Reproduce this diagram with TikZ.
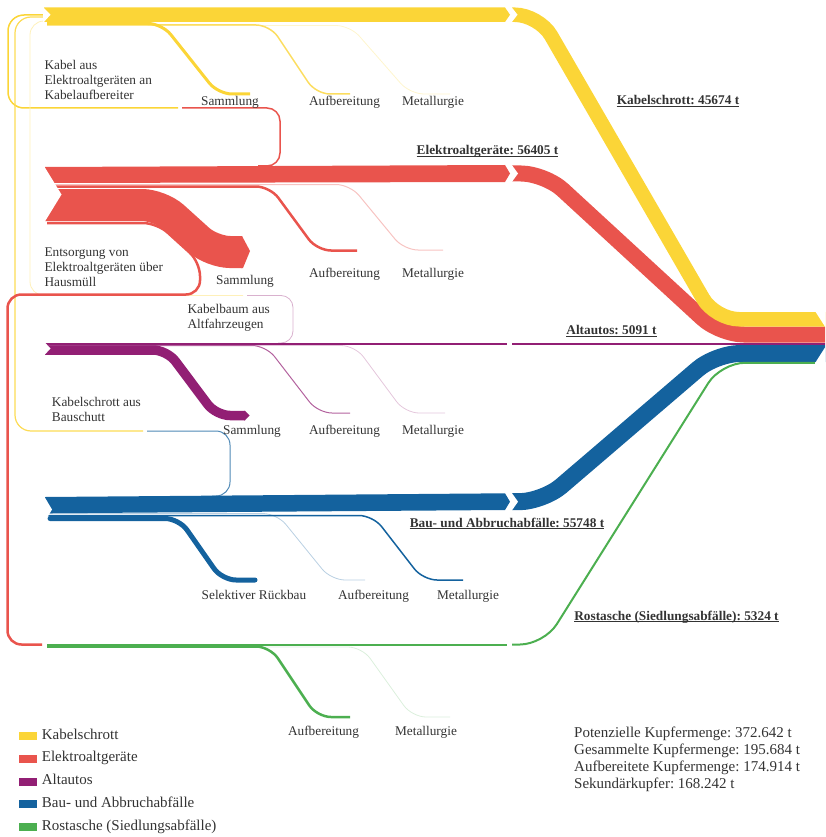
\documentclass[tikz,border=0pt]{standalone}
\usepackage{fontspec}
\setmainfont{Liberation Serif}
\frenchspacing
\definecolor{cable}{RGB}{251,213,55}
\definecolor{weee}{RGB}{233,84,77}
\definecolor{elv}{RGB}{146,31,116}
\definecolor{cdw}{RGB}{20,98,158}
\definecolor{ash}{RGB}{76,175,80}
\definecolor{ink}{RGB}{51,51,51}
\tikzset{
  stage/.style={font=\fontsize{13.3}{15}\selectfont, text=ink, inner sep=0pt, anchor=base},
  total/.style={stage, font=\fontsize{13.3}{15}\selectfont\bfseries},
  remark/.style={font=\fontsize{13.3}{15}\selectfont, text=ink, inner sep=0pt, anchor=north west, align=left},
  keytext/.style={font=\fontsize{15}{17}\selectfont, text=ink, inner sep=0pt, anchor=base west},
  keybox/.style={minimum width=18pt, minimum height=8pt, inner sep=0pt, anchor=north west, draw=none},
  knockout/.style={fill=white, draw=none},
  branch/.style={rounded corners=14pt},
  trunk/.style={rounded corners=24pt},
}
\begin{document}
\begin{tikzpicture}[x=1pt,y=-1pt]
\useasboundingbox (0,0) rectangle (825,837);
\clip (0,0) rectangle (825,837);

% ---------- transfer loops between the source streams
\draw[cable, line width=1.5pt, rounded corners=16pt] (44,15) -- (8,15) -- (8,108) -- (178,108);
\draw[weee, line width=1.5pt, rounded corners=13pt] (182,108) -- (280,108) -- (280,166) -- (258,166);
\draw[cable!85, line width=1.2pt, rounded corners=16pt] (44,17) -- (15,17) -- (15,431) -- (143,431);
\draw[cdw!75, line width=1pt, rounded corners=14pt] (147,431) -- (230,431) -- (230,496) -- (212,496);
\draw[cable!35, line width=0.8pt, rounded corners=14pt] (44,21) -- (30,21) -- (30,295.5) -- (243,295.5);
\draw[elv!35, line width=0.8pt, rounded corners=12pt] (247,295.5) -- (293,295.5) -- (293,343) -- (278,343);
\draw[weee, line width=2.5pt, rounded corners=14pt] (47,223) -- (157,223) -- (200,262) -- (200,294.5) -- (7.5,294.5) -- (7.5,644.5) -- (42,644.5);

% ---------- Kabelschrott branches
\draw[cable!25, line width=0.8pt, branch] (47,25.5) -- (350,25.5) -- (410,94) -- (450,94);
\draw[cable!80, line width=1.5pt, branch] (47,25) -- (270,25) -- (316,94) -- (350,94);
\draw[cable, line width=3pt, branch] (47,23.5) -- (162,23.5) -- (218,94) -- (250,94);

% ---------- Elektroaltgeraete branches
\draw[weee!35, line width=1pt, branch] (47,184.5) -- (350,184.5) -- (404,250) -- (443,250);
\draw[weee, line width=2.5pt, branch] (47,186.5) -- (270,186.5) -- (317,250.5) -- (357,250.5);
\draw[weee, line width=32pt, rounded corners=18pt] (45,205) -- (160,205) -- (212,252) -- (242,252);
\fill[weee] (241,236) -- (242,236) -- (250,251) -- (243,268) -- (241,268) -- cycle;

% ---------- Altautos branches
\draw[elv!25, line width=0.8pt, branch] (47,345.5) -- (355,345.5) -- (405,413) -- (445,413);
\draw[elv!70, line width=1pt, branch] (47,345.5) -- (266,345.5) -- (318,413) -- (350,413);
\draw[elv, line width=9.5pt, branch] (45,350) -- (167,350) -- (216,415.5) -- (245,415.5);
\fill[elv] (244,410.75) -- (245,410.75) -- (249.5,415.5) -- (245,420.25) -- (244,420.25) -- cycle;

% ---------- Bau- und Abbruchabfaelle branches
\draw[cdw!30, line width=0.8pt, branch] (47,513.5) -- (277,513.5) -- (331,580) -- (365,580);
\draw[cdw, line width=1.5pt, branch] (47,515.5) -- (373,515.5) -- (423,580) -- (463,580);
\draw[cdw, line width=5pt, line cap=round, branch] (50,518.5) -- (179,518.5) -- (222,580) -- (255,580);

% ---------- Rostasche branches
\draw[ash!20, line width=0.8pt, branch] (47,647) -- (362,647) -- (412,717) -- (450,717);
\draw[ash, line width=2.5pt, branch] (47,646.5) -- (270,646.5) -- (317,717) -- (350,717);

% ---------- main streams, first stretch
\fill[cable] (44,7.5) -- (505,7.5) -- (510,14.75) -- (505,22) -- (44,22) -- cycle;
\fill[weee] (45,167) -- (505,165) -- (510,173.5) -- (505,182) -- (45,183) -- cycle;
\draw[elv, line width=2pt] (45,343.5) -- (507,343.5);
\fill[cdw] (45,497) -- (505,493.3) -- (510,501.7) -- (505,510) -- (45,513.3) -- cycle;
\draw[ash, line width=2pt] (47,644.5) -- (507,644.5);

% ---------- main streams, second stretch into the total
\draw[cdw, line width=17pt, trunk] (512,501.7) -- (543,501.7) -- (716,353.5) -- (840,353.5);
\draw[ash, line width=2pt, trunk] (512,644.5) -- (544,644.5) -- (721,362.8) -- (815,362.8);
\draw[elv, line width=2pt] (512,343.5) -- (840,343.5);
\draw[weee, line width=16pt, trunk] (512,173.5) -- (545,173.5) -- (720,334.5) -- (840,334.5);
\draw[cable, line width=14.5pt, trunk] (512,14.75) -- (539,14.75) -- (715,319.25) -- (840,319.25);

% ---------- notches and arrow ends
\fill[knockout] (511.5,7) -- (517.5,14.75) -- (511.5,22.5) -- cycle;
\fill[knockout] (511.5,164.5) -- (518,173.5) -- (511.5,182.5) -- cycle;
\fill[knockout] (511.5,492.5) -- (518,501.7) -- (511.5,511) -- cycle;
\fill[knockout] (43,7) -- (50.5,14.75) -- (43,23) -- cycle;
\fill[knockout] (44,166) -- (61.5,194.5) -- (44,223) -- cycle;
\fill[knockout] (44,341.5) -- (50.5,348.5) -- (44,355.5) -- cycle;
\fill[knockout] (44,496) -- (52,509.5) -- (44,523) -- cycle;
\fill[knockout] (815,311) -- (831.7,337) -- (815,363.2) -- (815,370) -- (870,370) -- (870,300) -- (815,300) -- cycle;

% ---------- stage labels
\node[stage] (y-s) at (230,105.5) {Sammlung};
\node[stage] (y-a) at (344.5,105.5) {Aufbereitung};
\node[stage] (y-m) at (433,105.5) {Metallurgie};
\node[stage] (r-s) at (245,284.5) {Sammlung};
\node[stage] (r-a) at (344.5,277) {Aufbereitung};
\node[stage] (r-m) at (433,277) {Metallurgie};
\node[stage] (p-s) at (252,434.5) {Sammlung};
\node[stage] (p-a) at (344.5,434.5) {Aufbereitung};
\node[stage] (p-m) at (433,434.5) {Metallurgie};
\node[stage] (b-s) at (254,599) {Selektiver Rückbau};
\node[stage] (b-a) at (373.5,599) {Aufbereitung};
\node[stage] (b-m) at (468,599) {Metallurgie};
\node[stage] (g-a) at (323.5,735) {Aufbereitung};
\node[stage] (g-m) at (426,735) {Metallurgie};

% ---------- loop notes
\node[remark] (n-kabel) at (44.3,60.2) {Kabel aus\\Elektroaltgeräten an\\Kabelaufbereiter};
\node[remark] (n-haus) at (44.3,247.2) {Entsorgung von\\Elektroaltgeräten über\\Hausmüll};
\node[remark] (n-kfz) at (187.3,304.2) {Kabelbaum aus\\Altfahrzeugen};
\node[remark] (n-bau) at (51.7,396.9) {Kabelschrott aus\\Bauschutt};

% ---------- stream totals
\node[total] (t-cable) at (678,105) {Kabelschrott: 45674 t};
\node[total] (t-weee) at (487.5,155) {Elektroaltgeräte: 56405 t};
\node[total] (t-elv) at (611.5,334.5) {Altautos: 5091 t};
\node[total] (t-cdw) at (507,527) {Bau- und Abbruchabfälle: 55748 t};
\node[total] (t-ash) at (676.5,620) {Rostasche (Siedlungsabfälle): 5324 t};
\foreach \t in {t-cable,t-weee,t-elv,t-cdw,t-ash}
  \draw[ink, line width=0.9pt] ([yshift=-1.8pt]\t.base west) -- ([yshift=-1.8pt]\t.base east);

% ---------- legend
\node[keybox, fill=cable] (k1) at (18.5,731.5) {};
\node[keybox, fill=weee] (k2) at (18.5,754.4) {};
\node[keybox, fill=elv] (k3) at (18.5,777.3) {};
\node[keybox, fill=cdw] (k4) at (18.5,800.2) {};
\node[keybox, fill=ash] (k5) at (18.5,823.1) {};
\node[keytext] (k1t) at (41.7,739) {Kabelschrott};
\node[keytext] (k2t) at (41.7,761.9) {Elektroaltgeräte};
\node[keytext] (k3t) at (41.7,784.8) {Altautos};
\node[keytext] (k4t) at (41.7,807.7) {Bau- und Abbruchabfälle};
\node[keytext] (k5t) at (41.7,830.6) {Rostasche (Siedlungsabfälle)};

% ---------- copper summary
\node[remark, font=\fontsize{15}{17}\selectfont] (stats) at (574,726.5)
  {Potenzielle Kupfermenge: 372.642 t\\Gesammelte Kupfermenge: 195.684 t\\Aufbereitete Kupfermenge: 174.914 t\\Sekundärkupfer: 168.242 t};
\end{tikzpicture}
\end{document}
